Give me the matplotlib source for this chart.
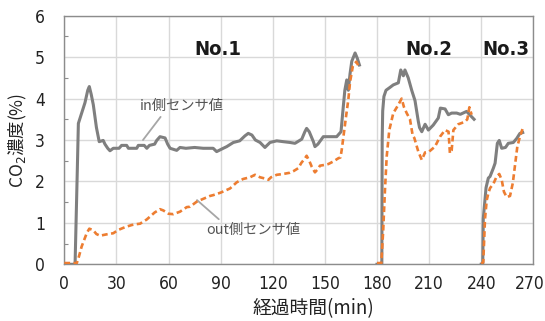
import matplotlib
matplotlib.use("Agg")
import matplotlib.pyplot as plt
from matplotlib.ticker import MultipleLocator
from matplotlib.transforms import ScaledTranslation
import matplotlib.font_manager as fm
from matplotlib.font_manager import FontProperties

# ---------------- data ----------------
in1_t = [0, 6.2, 7.5, 8.1, 10, 11.9, 13.5, 14.4, 15.5, 16.7, 18.5, 20.1, 22.4, 23.4, 25, 26.3, 28.2, 31.5, 33, 35.9,
         36.9, 41.7, 42.6, 46, 47.5, 49, 52, 53.2, 55.1, 58, 59.5, 60.9, 64.7, 66.6, 70, 75, 80, 85.7, 87.7, 91.5,
         93.5, 97.3, 101, 104, 105.9, 108, 110, 112.7, 115.5, 118.4, 122.3, 126, 130, 132.8, 136.7, 138.5, 139.5,
         141, 143.4, 144.3, 146, 149.1, 156.8, 159.3, 160.6, 161.5, 162.6, 163.5, 164.5, 165.5, 167.4, 168.7, 169.9]
in1_v = [0, 0, 2.3, 3.4, 3.65, 3.9, 4.2, 4.29, 4.1, 3.85, 3.3, 2.96, 2.99, 2.9, 2.8, 2.74, 2.8, 2.8, 2.87, 2.87,
         2.8, 2.8, 2.87, 2.87, 2.8, 2.87, 2.9, 2.99, 3.08, 3.05, 2.9, 2.8, 2.75, 2.82, 2.8, 2.82, 2.8, 2.8, 2.72, 2.8,
         2.84, 2.94, 2.98, 3.1, 3.16, 3.12, 3.0, 2.94, 2.82, 2.94, 2.98, 2.96, 2.94, 2.92, 3.02, 3.2, 3.28,
         3.2, 2.96, 2.84, 2.9, 3.08, 3.08, 3.2, 3.8, 4.2, 4.45, 4.2, 4.6, 4.9, 5.1, 4.97, 4.81]

in2_t = [180, 182.8, 183, 183.3, 184, 185.2, 187.5, 189.4, 192.3, 193.7, 195.2, 196.1, 198, 200, 201.9, 203.8,
         204.5, 205.8, 207.7, 209.6, 212.4, 215.3, 216.5, 219.2, 221.1, 223, 225.9, 228, 231.6, 233.6, 235.9]
in2_v = [0, 0, 3.0, 3.7, 4.05, 4.2, 4.27, 4.33, 4.38, 4.69, 4.55, 4.69, 4.5, 4.2, 3.95, 3.45,
         3.3, 3.2, 3.38, 3.24, 3.36, 3.53, 3.77, 3.75, 3.61, 3.65, 3.65, 3.62, 3.69, 3.6, 3.5]

in3_t = [240, 240.9, 241.2, 242.8, 244.1, 245.1, 247, 248, 249.3, 250.4, 251.8, 254, 255.6, 258.5, 260.5, 262.3, 263.9]
in3_v = [0, 0, 1.1, 1.85, 2.08, 2.12, 2.32, 2.44, 2.92, 2.99, 2.8, 2.82, 2.92, 2.94, 3.04, 3.16, 3.18]

out1_t = [0, 6.2, 7.1, 8.1, 10, 12.9, 14.4, 16.7, 18.5, 20.6, 24, 28.2, 31.1, 34, 35.9, 39, 41.7, 43.6, 45.5, 47.4,
          49.3, 52, 55.1, 57, 60, 62.8, 66.6, 70.5, 72.4, 76.2, 80, 83.9, 85.8, 90, 95.4, 99.3, 100.2, 103, 106.9,
          109.8, 112.7, 116.5, 117.5, 119, 122.3, 126, 129.9, 132, 134.7, 136.5, 138.6, 139.5, 141, 142.5, 144.3,
          146, 147.2, 150, 152, 154.8, 157.8, 159, 159.7, 160.6, 162.2, 163.5, 164.5, 166.1, 168.1, 170.1]
out1_v = [0.03, 0.03, 0.02, 0.14, 0.43, 0.75, 0.86, 0.82, 0.73, 0.69, 0.72, 0.75, 0.83, 0.88, 0.91, 0.95, 0.97, 0.98,
          1.03, 1.08, 1.15, 1.25, 1.33, 1.3, 1.22, 1.21, 1.27, 1.38, 1.39, 1.51, 1.58, 1.65, 1.67, 1.73, 1.83, 1.98,
          2.0, 2.06, 2.1, 2.16, 2.1, 2.06, 2.04, 2.1, 2.16, 2.18, 2.21, 2.25, 2.32, 2.45, 2.56, 2.62, 2.5, 2.35, 2.22,
          2.3, 2.38, 2.4, 2.42, 2.48, 2.56, 2.58, 2.76, 3.05, 3.57, 3.97, 4.4, 4.78, 4.89, 4.73]

out2_t = [180, 182.5, 183.6, 184.6, 185.6, 187.1, 189.4, 192.3, 194.2, 195.5, 197.1, 199, 200.6, 201.5, 203.8,
          205.8, 207.7, 210, 213.4, 216.3, 219.2, 221.2, 222, 223, 224, 226.8, 230.7, 232, 233.2, 234.5]
out2_v = [0.03, 0.03, 0.83, 1.79, 2.6, 3.24, 3.65, 3.85, 4.0, 3.8, 3.65, 3.5, 3.1, 3.05, 2.72,
          2.52, 2.7, 2.72, 2.84, 3.08, 3.24, 3.2, 2.68, 2.75, 3.24, 3.38, 3.44, 3.5, 3.79, 3.61]

out3_t = [240, 241.2, 242.2, 243.2, 244.1, 245.1, 247, 248.9, 250.4, 251.8, 253.1, 254.7, 256.6, 258.2, 259.5,
          260.8, 262.3, 263.9]
out3_v = [0.02, 0.05, 1.1, 1.55, 1.71, 1.84, 1.94, 2.12, 2.18, 2.04, 1.75, 1.62, 1.65, 1.96, 2.4, 2.84, 3.08, 3.28]

x_ticks = [0, 30, 60, 90, 120, 150, 180, 210, 240, 270]
y_ticks = [0, 1, 2, 3, 4, 5, 6]
run_labels = ["No.1", "No.2", "No.3"]

# ---------------- style ----------------
def pick_narrow(bold=False):
    want_w = 700 if bold else 400
    cands = []
    for f in fm.fontManager.ttflist:
        if f.name in ("Liberation Sans Narrow", "Roboto Condensed", "Open Sans Condensed") or \
           (f.name in ("DejaVu Sans", "Noto Sans", "Open Sans") and "ondensed" in str(f.stretch) + f.fname):
            w = f.weight if isinstance(f.weight, int) else (700 if "bold" in str(f.weight) else 400)
            if f.style == "normal":
                cands.append((abs(w - want_w), f.fname))
    if cands:
        cands.sort()
        return FontProperties(fname=cands[0][1])
    return FontProperties(family="Roboto", weight="bold" if bold else "normal")

fp_tick = pick_narrow(False)
fp_bold = pick_narrow(True)
jp = "Noto Sans CJK JP"

GRAY = "#7f7f7f"
ORANGE = "#ed7d31"

fig = plt.figure(figsize=(5.45, 3.21), dpi=100)
ax = fig.add_axes([64.3 / 545, 1 - 264.3 / 321, (533.3 - 64.3) / 545, (264.3 - 15.7) / 321])

for t, v in [(in1_t, in1_v), (in2_t, in2_v), (in3_t, in3_v)]:
    ax.plot(t, v, color=GRAY, lw=2.2, solid_joinstyle="round", zorder=3)
for t, v in [(out1_t, out1_v), (out2_t, out2_v), (out3_t, out3_v)]:
    ax.plot(t, v, color=ORANGE, lw=1.9, dashes=(2.2, 1.3), zorder=4)

ax.set_xlim(0, 270)
ax.set_ylim(0, 6)
ax.set_xticks(x_ticks)
ax.set_yticks(y_ticks)
ax.yaxis.set_minor_locator(MultipleLocator(0.5))
ax.grid(True, which="major", color="#d9d9d9", lw=1.0, zorder=0)
ax.set_axisbelow(True)
for s in ax.spines.values():
    s.set_color("#8c8c8c")
    s.set_linewidth(1.0)
ax.tick_params(axis="both", which="major", length=0, pad=8)
ax.tick_params(axis="y", which="major", pad=14)
ax.tick_params(axis="y", which="minor", direction="in", length=3, color="#8c8c8c", width=0.8)
fp_tick.set_size(12.5)
for lab in ax.get_xticklabels() + ax.get_yticklabels():
    lab.set_fontproperties(fp_tick)
    lab.set_color("#222222")
last = ax.get_xticklabels()[-1]
last.set_transform(last.get_transform() + ScaledTranslation(-4 / 100, 0, fig.dpi_scale_trans))

fp_bold.set_size(14.5)
fp_bold.set_weight("bold")
for lab, xx in zip(run_labels, [88.5, 210, 254.3]):
    ax.text(xx, 5.18, lab, ha="center", va="center", fontproperties=fp_bold, color="#1a1a1a")

# annotations
ax.annotate("in側センサ値", xy=(45.3, 3.0), xytext=(43.6, 3.82), ha="left", va="center",
            fontsize=10.3, family=[jp, "DejaVu Sans"], color="#555555",
            arrowprops=dict(arrowstyle="-", color="#a6a6a6", lw=1.3, shrinkA=1, shrinkB=0,
                            relpos=(0.28, 0.0)))
ax.annotate("out側センサ値", xy=(76.4, 1.55), xytext=(81.6, 0.83), ha="left", va="center",
            fontsize=10.3, family=[jp, "DejaVu Sans"], color="#555555",
            arrowprops=dict(arrowstyle="-", color="#a6a6a6", lw=1.3, shrinkA=1, shrinkB=0,
                            relpos=(0.18, 1.0)))

fig.text(18 / 545, 1 - 140 / 321, "CO$_2$濃度(%)", rotation=90, ha="center", va="center",
         fontsize=12.5, family=[jp, "DejaVu Sans"], color="#222222")
fig.text(313 / 545, 1 - 309 / 321, "経過時間(min)", ha="center", va="center",
         fontsize=13.5, family=[jp, "DejaVu Sans"], color="#222222")

fig.savefig("out.png", dpi=100)
